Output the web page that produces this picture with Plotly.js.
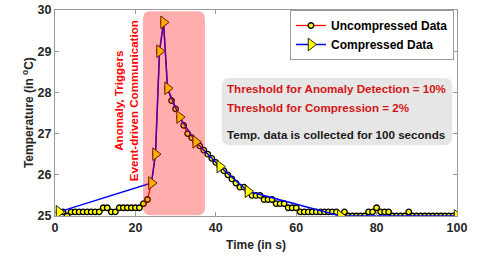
<!DOCTYPE html>
<html>
<head>
<meta charset="utf-8">
<script src="https://cdn.plot.ly/plotly-3.0.1.min.js"></script>
<style>html,body{margin:0;padding:0;background:#fff;}#chart{width:485px;height:262px;}</style>
</head>
<body>
<div id="chart"></div>
<script>
// Uncompressed samples (one per second)
const timeSec = [1,2,3,4,5,6,7,8,9,10,11,12,13,14,15,16,17,18,19,20,21,22,23,24,25,26,27,28,29,30,31,32,33,34,35,36,37,38,39,40,41,42,43,44,45,46,47,48,49,50,51,52,53,54,55,56,57,58,59,60,61,62,63,64,65,66,67,68,69,70,71,72,73,74,75,76,77,78,79,80,81,82,83,84,85,86,87,88,89,90,91,92,93,94,95,96,97,98,99,100];
const uncompressedTemp = [25.1,25.1,25.0,25.1,25.1,25.1,25.1,25.1,25.1,25.1,25.1,25.2,25.2,25.1,25.1,25.2,25.2,25.2,25.2,25.2,25.2,25.3,25.4,25.8,26.5,29.0,29.7,28.1,27.8,27.6,27.4,27.2,27.0,26.9,26.8,26.7,26.6,26.5,26.4,26.3,26.2,26.1,26.0,25.9,25.8,25.7,25.7,25.6,25.5,25.5,25.5,25.4,25.4,25.4,25.3,25.3,25.3,25.2,25.2,25.2,25.1,25.1,25.1,25.1,25.1,25.1,25.1,25.1,25.1,25.1,25.0,25.1,25.0,25.0,25.0,25.0,25.0,25.1,25.1,25.2,25.1,25.1,25.1,25.0,25.0,25.0,25.0,25.1,25.0,25.0,25.0,25.0,25.0,25.0,25.0,25.0,25.0,25.0,25.0,25.0];
// Compressed samples
const compressedTime = [1,24,25,26,27,28,31,35,41,48,71,100];
const compressedTemp = [25.1,25.8,26.5,29.0,29.7,28.1,27.4,26.8,26.2,25.6,25.0,25.0];
// Anomaly window (seconds)
const anomalyWindow = [21.9, 37.3];
const xTicks = [0,20,40,60,80,100];
const yTicks = [25,26,27,28,29,30];
const infoLines = ["Threshold for Anomaly Detection = 10%","Threshold for Compression = 2%","Temp. data is collected for 100 seconds"];

function roundRect(x0,x1,y0,y1,rx,ry){
  return `M ${x0+rx},${y0} L ${x1-rx},${y0} Q ${x1},${y0} ${x1},${y0+ry} L ${x1},${y1-ry} Q ${x1},${y1} ${x1-rx},${y1} L ${x0+rx},${y1} Q ${x0},${y1} ${x0},${y1-ry} L ${x0},${y0+ry} Q ${x0},${y0} ${x0+rx},${y0} Z`;
}

const FONT = 'Liberation Sans, Arial, sans-serif';
const data = [
  {x: timeSec, y: uncompressedTemp, type:'scatter', mode:'lines+markers', name:'<b>Uncompressed Data</b>',
   line:{color:'#ff0000', width:1.3},
   marker:{symbol:'circle', size:5.5, color:'#ffff00', line:{color:'#000', width:1.3}}},
  {x: compressedTime, y: compressedTemp, type:'scatter', mode:'lines+markers', name:'<b>Compressed Data</b>',
   line:{color:'#0000ff', width:1.5},
   marker:{symbol:'triangle-right', size:11, color:'#ffff00', line:{color:'#332200', width:1}}}
];

const layout = {
  width:485, height:262,
  margin:{l:55, r:28, t:10, b:46},
  paper_bgcolor:'#fff', plot_bgcolor:'#fff',
  font:{family:FONT, color:'#262626'},
  showlegend:true,
  legend:{x:0.9925, xanchor:'right', y:1, yanchor:'top', bgcolor:'#fff', bordercolor:'#999', borderwidth:1,
          font:{family:FONT, size:12, color:'#000'}, itemwidth:30, tracegroupgap:0},
  xaxis:{range:[0,100], tickvals:xTicks, ticktext:xTicks.map(v=>'<b>'+v+'</b>'), ticks:'inside', ticklen:4, tickcolor:'#999',
         showline:true, linecolor:'#999', linewidth:1, mirror:'ticks', showgrid:false, zeroline:false,
         tickfont:{family:FONT, size:12.5, color:'#262626'},
         title:{text:'<b>Time (in s)</b>', font:{family:FONT, size:12, color:'#262626'}, standoff:6}},
  yaxis:{range:[25,30], tickvals:yTicks, ticktext:yTicks.map(v=>'<b>'+v+'</b>'), ticks:'inside', ticklen:4, tickcolor:'#999',
         showline:true, linecolor:'#999', linewidth:1, mirror:'ticks', showgrid:false, zeroline:false,
         tickfont:{family:FONT, size:12.5, color:'#262626'}},
  shapes:[
    {type:'path', xref:'x', yref:'y', layer:'above', path: roundRect(anomalyWindow[0], anomalyWindow[1], 25.02, 29.97, 1.8, 0.18),
     fillcolor:'rgba(255,0,0,0.32)', line:{width:0}},
    {type:'path', xref:'x', yref:'y', layer:'below', path: roundRect(41.5, 98.8, 26.72, 28.35, 2.0, 0.2),
     fillcolor:'#e6e6e6', line:{width:0}}
  ],
  annotations:[
    {x:-0.067, y:0.5, xref:'paper', yref:'paper', xanchor:'center', yanchor:'middle', text:'<b>Temperature (in <sup>o</sup>C)</b>', textangle:-90,
     showarrow:false, font:{family:FONT, size:12, color:'#262626'}},
    {x:17.7, y:27.79, xref:'x', yref:'y', text:'<b>Anomaly, Triggers<br>Event-driven Communication</b>', textangle:-90,
     showarrow:false, font:{family:FONT, size:11.6, color:'#ff0000'}, align:'center'},
    {x:42.4, y:28.1, xref:'x', yref:'y', xanchor:'left', text:'<b>'+infoLines[0]+'</b>', showarrow:false,
     font:{family:FONT, size:11.6, color:'#d41414'}},
    {x:42.4, y:27.64, xref:'x', yref:'y', xanchor:'left', text:'<b>'+infoLines[1]+'</b>', showarrow:false,
     font:{family:FONT, size:11.6, color:'#d41414'}},
    {x:42.4, y:26.98, xref:'x', yref:'y', xanchor:'left', text:'<b>'+infoLines[2]+'</b>', showarrow:false,
     font:{family:FONT, size:11.6, color:'#1a1a1a'}}
  ]
};
Plotly.newPlot('chart', data, layout, {displayModeBar:false, staticPlot:true});
</script>
</body>
</html>
